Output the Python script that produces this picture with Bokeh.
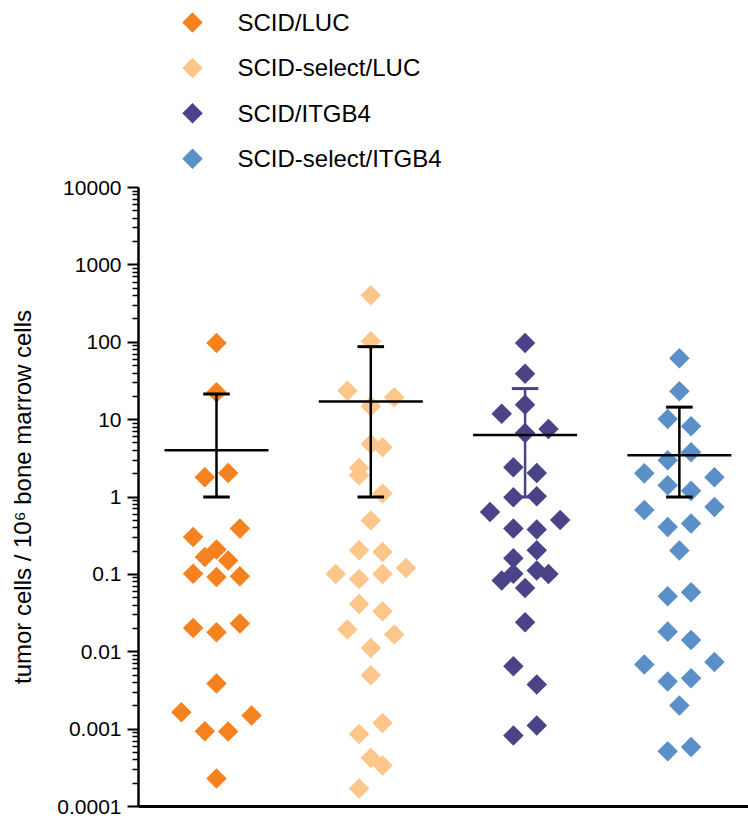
import math
from bokeh.plotting import figure
from bokeh.models import Range1d, FixedTicker
from bokeh.layouts import column
from bokeh.core.properties import value
from bokeh.embed import file_html
from bokeh.resources import INLINE

# ---------------- data ----------------
groups = ["SCID/LUC", "SCID-select/LUC", "SCID/ITGB4", "SCID-select/ITGB4"]
colors = ["#F5821F", "#FEC68B", "#4A4387", "#5B8FC8"]

luc_vals = [97.7, 22.5, 1.80, 2.04, 0.391, 0.304, 0.209, 0.168, 0.151, 0.102, 0.0925,
            0.0945, 0.0203, 0.0179, 0.0231, 0.00388, 0.00165, 0.00094, 0.00093, 0.0015, 0.00023]
luc_slot = [0, 0, -1, 1, 2, -2, 0, -1, 1, -2, 0, 2, -2, 0, 2, 0, -3, -1, 1, 3, 0]

sel_luc_vals = [404, 103, 23.7, 19.4, 14.9, 4.84, 4.39, 2.37, 1.91, 1.11, 0.496, 0.205, 0.195,
                0.101, 0.0872, 0.101, 0.121, 0.0415, 0.0334, 0.0194, 0.0167, 0.0112, 0.00497,
                0.00120, 0.000867, 0.000425, 0.000339, 0.000171]
sel_luc_slot = [0, 0, -2, 2, 0, 0, 1, -1, -1, 1, 0, -1, 1, -3, -1, 1, 3, -1, 1, -2, 2, 0, 0,
                1, -1, 0, 1, -1]

itgb4_vals = [97.7, 39.3, 15.6, 11.9, 7.56, 6.72, 2.42, 2.04, 0.99, 1.02, 0.640, 0.505, 0.391,
              0.379, 0.205, 0.161, 0.102, 0.0831, 0.112, 0.101, 0.0667, 0.0240, 0.0065,
              0.00377, 0.00111, 0.000826]
itgb4_slot = [0, 0, 0, -2, 2, 0, -1, 1, -1, 1, -3, 3, -1, 1, 1, -1, -1, -2, 1, 2, 0, 0, -1,
              1, 1, -1]

sel_itgb4_vals = [61.9, 23.2, 10.2, 8.19, 3.78, 2.98, 2.02, 1.80, 1.42, 1.20, 0.679, 0.743,
                  0.410, 0.453, 0.203, 0.0521, 0.0587, 0.0182, 0.0142, 0.00684, 0.00738,
                  0.00412, 0.00455, 0.00202, 0.000518, 0.000589]
sel_itgb4_slot = [0, 0, -1, 1, 1, -1, -3, 3, -1, 1, -3, 3, -1, 1, 0, -1, 1, -1, 1, -3, 3,
                  -1, 1, 0, -1, 1]

means = [4.01, 17.1, 6.32, 3.46]
err_low = [1.0, 1.0, 1.0, 1.0]
err_high = [21.4, 87.7, 25.2, 14.5]
err_colors = ["black", "black", "#4A4387", "black"]

y_ticks = [1e-4, 1e-3, 1e-2, 1e-1, 1, 10, 100, 1000, 10000]
y_tick_labels = ["0.0001", "0.001", "0.01", "0.1", "1", "10", "100", "1000", "10000"]
y_title = "tumor cells / 10\u2076 bone marrow cells"

FONT = "Liberation Sans"
SLOT = 0.0758      # horizontal swarm step (x units)
MEAN_HALF = 0.337
CAP_HALF = 0.086

# ---------------- legend figure ----------------
leg = figure(width=748, height=171, output_backend="svg", toolbar_location=None,
             x_range=Range1d(0, 748), y_range=Range1d(3.2818, -0.4846),
             x_axis_location=None, y_axis_location=None,
             min_border=0, min_border_left=0, min_border_right=0,
             min_border_top=0, min_border_bottom=0, outline_line_color=None)
leg.frame_align = False
leg.grid.visible = False
idx = list(range(len(groups)))
leg.scatter(x=[192] * len(groups), y=idx, marker="square", angle=math.pi / 4, size=14.5,
            fill_color=colors, line_color=None)
leg.text(x=[192] * len(groups), y=idx, text=groups, x_offset=45, text_baseline="middle",
         text_align="left", text_font=value(FONT), text_font_size="24px", text_color="black")

# ---------------- main figure ----------------
p = figure(frame_width=610, frame_height=619, output_backend="svg", toolbar_location=None,
           y_axis_type="log", x_range=Range1d(0.4945, 4.448), y_range=Range1d(1e-4, 1e4),
           min_border_left=138, min_border_right=0, min_border_top=16, min_border_bottom=13,
           outline_line_color=None)
p.frame_align = False
p.grid.visible = False

all_vals = [luc_vals, sel_luc_vals, itgb4_vals, sel_itgb4_vals]
all_slots = [luc_slot, sel_luc_slot, itgb4_slot, sel_itgb4_slot]
for gi, (vals, slots) in enumerate(zip(all_vals, all_slots)):
    xs = [gi + 1 + s * SLOT for s in slots]
    p.scatter(x=xs, y=vals, marker="square", angle=math.pi / 4, size=14.5,
              fill_color=colors[gi], line_color=None)

gx = [i + 1 for i in range(len(groups))]
# error bars
p.segment(x0=gx, y0=err_low, x1=gx, y1=err_high, line_color=err_colors, line_width=2.5)
p.segment(x0=[x - CAP_HALF for x in gx], y0=err_high, x1=[x + CAP_HALF for x in gx],
          y1=err_high, line_color=err_colors, line_width=3)
p.segment(x0=[x - CAP_HALF for x in gx], y0=err_low, x1=[x + CAP_HALF for x in gx],
          y1=err_low, line_color=err_colors, line_width=3)
# mean lines
p.segment(x0=[x - MEAN_HALF for x in gx], y0=means, x1=[x + MEAN_HALF for x in gx],
          y1=means, line_color="black", line_width=2.5)

minor = []
for d in range(-4, 4):
    for k in range(2, 10):
        minor.append(k * 10.0 ** d)

ya = p.yaxis[0]
ya.ticker = FixedTicker(ticks=y_ticks, minor_ticks=minor)
ya.major_label_overrides = {t: lab for t, lab in zip(y_ticks, y_tick_labels)}
ya.axis_label = y_title
ya.axis_label_text_font = FONT
ya.axis_label_text_font_size = "24px"
ya.axis_label_text_font_style = "normal"
ya.axis_label_text_color = "black"
ya.axis_label_standoff = 18
ya.major_label_text_font = FONT
ya.major_label_text_font_size = "21px"
ya.major_label_text_color = "black"
ya.major_label_standoff = 6
ya.axis_line_width = 2.5
ya.axis_line_color = "black"
ya.major_tick_line_width = 2
ya.major_tick_line_color = "black"
ya.major_tick_out = 11
ya.major_tick_in = 0
ya.minor_tick_line_width = 1.5
ya.minor_tick_line_color = "black"
ya.minor_tick_out = 6
ya.minor_tick_in = 0

xa = p.xaxis[0]
xa.ticker = FixedTicker(ticks=[])
xa.major_tick_out = 0
xa.major_tick_in = 0
xa.minor_tick_out = 0
xa.minor_tick_in = 0
xa.major_label_text_font_size = "0px"
xa.major_label_standoff = 0
xa.axis_line_width = 3
xa.axis_line_color = "black"

layout = column(leg, p, spacing=0)
open("out.html", "w").write(file_html(layout, INLINE))
